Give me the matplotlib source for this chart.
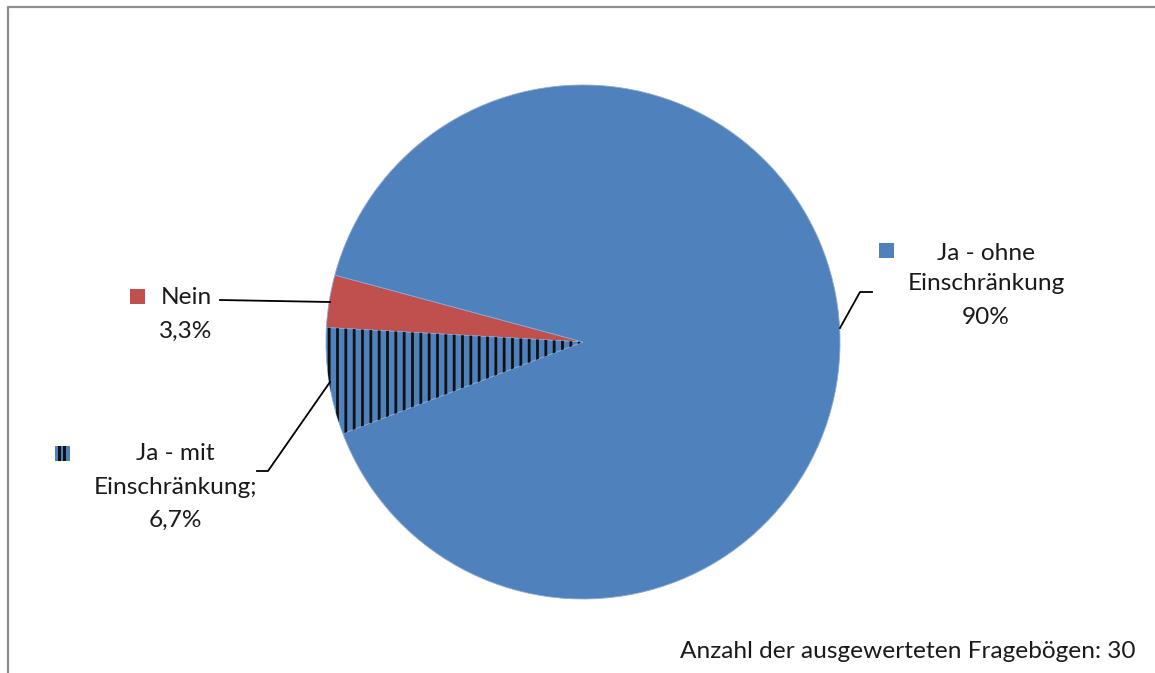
import matplotlib.pyplot as plt
from matplotlib.patches import Rectangle, Wedge

plt.rcParams['font.family'] = ['Lato', 'DejaVu Sans']
plt.rcParams['hatch.linewidth'] = 2.0

# Daten
labels = ['Nein', 'Ja - mit\nEinschränkung;', 'Ja - ohne\nEinschränkung']
values = [3.3, 6.7, 90.0]
value_labels = ['3,3%', '6,7%', '90%']
colors = ['#C0504D', '#4F81BD', '#4F81BD']
hatches = [None, '||', None]
footer = 'Anzahl der ausgewerteten Fragebögen: 30'

W, H = 1155, 673
fig = plt.figure(figsize=(W / 100, H / 100), dpi=100)
ax = fig.add_axes([0, 0, 1, 1])

cx, cy, r = 583, H - 342, 257
wedges, _ = ax.pie(values, colors=colors, startangle=164.9, counterclock=True,
                   center=(cx, cy), radius=r, frame=True,
                   wedgeprops=dict(edgecolor='#8AA8D4', linewidth=0.6))
ax.axis('off')
ax.set_xlim(0, W)
ax.set_ylim(0, H)
ax.set_aspect('equal')

# Schraffur in schwarz darüberlegen
for w, h in zip(wedges, hatches):
    if h:
        ax.add_patch(Wedge(w.center, w.r, w.theta1, w.theta2, facecolor='none',
                           edgecolor='#111111', lw=0, hatch=h))

# Rahmen (nur oben und links sichtbar)
ax.plot([7.5, 7.5, W], [0, H - 6.5, H - 6.5], color='#8C8C8C', lw=1.6,
        solid_capstyle='butt')

fs = 17.6
txt = '#1A1A1A'

def label_lines(x, ys, lines):
    for y, s in zip(ys, lines):
        ax.text(x, H - y, s, ha='center', va='center', fontsize=fs, color=txt)

def key(kx, ky, c):
    ax.add_patch(Rectangle((kx, H - ky - 15), 15, 15, facecolor=c,
                           edgecolor='none'))

# Nein
label_lines(186, [297, 331], ['Nein', value_labels[0]])
key(130, 289, colors[0])
ax.plot([220, 330], [H - 300, H - 302], color='black', lw=1.3)

# Ja - mit
label_lines(175, [453, 488, 520], labels[1].split('\n') + [value_labels[1]])
key(55, 446, colors[1])
ax.add_patch(Rectangle((58, H - 461), 3, 15, color='#111111', lw=0))
ax.add_patch(Rectangle((63, H - 461), 3, 15, color='#111111', lw=0))
ax.plot([257, 268, 330], [H - 471, H - 471, H - 382], color='black', lw=1.3)

# Ja - ohne
label_lines(986, [253, 284, 317], labels[2].split('\n') + [value_labels[2]])
key(879, 243, colors[2])
ax.plot([840, 860, 872], [H - 328, H - 292, H - 292], color='black', lw=1.3)

ax.text(1136, H - 651, footer, ha='right', va='center', fontsize=fs, color=txt)

fig.savefig('out.png', dpi=100)
